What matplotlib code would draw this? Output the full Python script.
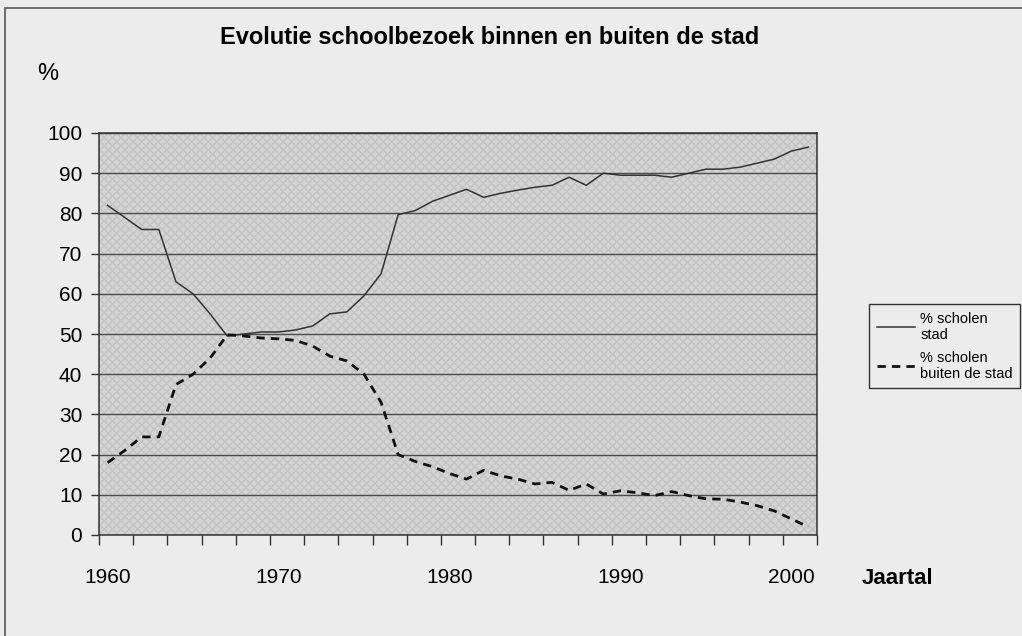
import matplotlib.pyplot as plt
import numpy as np
from matplotlib.patches import Rectangle

plt.rcParams['font.family'] = ['Liberation Sans', 'DejaVu Sans']

years = list(range(1960, 2002))
stad = [82, 79, 76, 76, 63, 60, 55, 49.5, 50, 50.5,
        50.5, 51, 52, 55, 55.5, 59.5, 65, 79.7, 80.7, 83,
        84.5, 86, 84, 85, 85.8, 86.5, 87, 89, 87, 90,
        89.5, 89.5, 89.5, 89, 90, 91, 91, 91.5, 92.5, 93.5,
        95.5, 96.5]
buiten = [18, 21, 24.4, 24.4, 37.4, 40, 44, 49.8, 49.5, 49,
          48.8, 48.4, 47, 44.5, 43.3, 40, 33, 20, 18.3, 17,
          15.3, 13.9, 16.1, 14.7, 13.9, 12.7, 13.1, 11.1, 12.7, 10.2,
          11, 10.5, 9.8, 10.8, 9.8, 9, 8.9, 8.2, 7.3, 6,
          4, 2]
year_labels = [1960, 1970, 1980, 1990, 2000]
y_ticks = list(range(0, 101, 10))

fig = plt.figure(figsize=(10.22, 6.36), dpi=100, facecolor='#ececec')

# outer frame of the scanned chart
fig.patches.append(Rectangle((5 / 1022, -0.05), 1.1, (636 - 8) / 636 + 0.05,
                             transform=fig.transFigure, fill=False,
                             edgecolor='#555555', lw=1.2))

ax = fig.add_axes([99 / 1022, 101 / 636, 718 / 1022, 402 / 636])
ax.set_facecolor('#d4d4d4')
ax.add_patch(Rectangle((0, 0), 1, 1, transform=ax.transAxes, fill=False,
                       hatch='xxxx', edgecolor='#c4c4c4', lw=0, zorder=0))

for v in y_ticks:
    ax.axhline(v, color='#4a4a4a', lw=1, zorder=1)

l1, = ax.plot(years, stad, color='#333333', lw=1.1, zorder=3)
l2, = ax.plot(years, buiten, color='#111111', lw=2, dashes=(3, 2.2), zorder=3)

ax.set_xlim(1959.5, 2001.5)
ax.set_ylim(0, 100)
ax.set_yticks(y_ticks)
ax.set_xticks(year_labels)
ax.set_xticks(np.arange(1959.5, 2002, 2), minor=True)
ax.tick_params(axis='x', which='major', length=0, pad=24, labelsize=15)
ax.tick_params(axis='x', which='minor', length=7, width=1, color='#333333')
ax.tick_params(axis='y', length=6, width=1, labelsize=15, pad=6, color='#333333')
for s in ax.spines.values():
    s.set_color('#333333')
    s.set_linewidth(1.1)

fig.text(490 / 1022, 1 - 37 / 636, 'Evolutie schoolbezoek binnen en buiten de stad',
         ha='center', va='center', fontsize=17, fontweight='bold')
fig.text(48 / 1022, 1 - 74 / 636, '%', ha='center', va='center', fontsize=17)
fig.text(898 / 1022, 1 - 578 / 636, 'Jaartal', ha='center', va='center',
         fontsize=16, fontweight='bold')

fig.legend([l1, l2], ['% scholen\nstad', '% scholen\nbuiten de stad'],
           loc='upper left', bbox_to_anchor=(862 / 1022, 1 - 297 / 636),
           fontsize=10.5, frameon=True, fancybox=False, edgecolor='#333333',
           facecolor='#ececec', framealpha=1, handlelength=2.6,
           handletextpad=0.4, borderpad=0.5, labelspacing=0.6)

fig.savefig('out.png', dpi=100)
